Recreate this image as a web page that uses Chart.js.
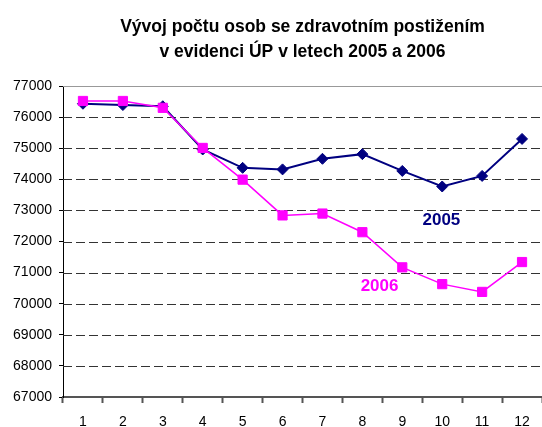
<!DOCTYPE html>
<html>
<head>
<meta charset="utf-8">
<script src="https://cdn.jsdelivr.net/npm/chart.js@4/dist/chart.umd.min.js"></script>
<style>
  html, body { margin: 0; padding: 0; background: #fff; }
  #wrap { width: 542px; height: 427px; position: relative; }
</style>
</head>
<body>
<div id="wrap"><canvas id="c" width="542" height="427"></canvas></div>
<script>
const months = ['1','2','3','4','5','6','7','8','9','10','11','12'];
const values2005 = [76430, 76390, 76350, 74960, 74370, 74320, 74660, 74810, 74270, 73770, 74110, 75300];
const values2006 = [76520, 76520, 76300, 75010, 73990, 72840, 72900, 72300, 71170, 70630, 70380, 71340];
const titleLines = ['Vývoj počtu osob se zdravotním postižením', 'v evidenci ÚP v letech 2005 a 2006'];
const seriesLabels = ['2005', '2006'];
// label anchors in data units: [category index, value]
const labelAnchors = [[8.98, 72680], [7.43, 70550]];
const yMin = 67000, yMax = 77000, yStep = 1000;

const FONT = "'Liberation Sans', Arial, sans-serif";
const colors = ['#000080', '#FF00FF'];

const gridPlugin = {
  id: 'dashedGrid',
  beforeDatasetsDraw(chart) {
    const ctx = chart.ctx;
    const ys = chart.scales.y;
    const area = chart.chartArea;
    ctx.save();
    ctx.lineWidth = 1;
    ys.ticks.forEach((t) => {
      if (t.value === yMin) return;
      const y = Math.round(ys.getPixelForValue(t.value)) + 0.5;
      ctx.beginPath();
      if (t.value === yMax) {
        ctx.setLineDash([]);
        ctx.strokeStyle = '#999';
      } else {
        ctx.setLineDash([9, 4]);
        ctx.strokeStyle = '#333';
      }
      ctx.moveTo(area.left, y);
      ctx.lineTo(area.right, y);
      ctx.stroke();
    });
    ctx.restore();
  }
};

const seriesLabelPlugin = {
  id: 'seriesLabels',
  afterDatasetsDraw(chart) {
    const ctx = chart.ctx;
    const xs = chart.scales.x, ys = chart.scales.y;
    ctx.save();
    ctx.font = 'bold 17px ' + FONT;
    ctx.textAlign = 'center';
    ctx.textBaseline = 'middle';
    seriesLabels.forEach((t, i) => {
      ctx.fillStyle = colors[i];
      ctx.fillText(t, xs.getPixelForValue(labelAnchors[i][0]), ys.getPixelForValue(labelAnchors[i][1]));
    });
    ctx.restore();
  }
};

new Chart(document.getElementById('c'), {
  type: 'line',
  data: {
    labels: months,
    datasets: [
      {
        label: seriesLabels[0],
        data: values2005,
        borderColor: colors[0],
        backgroundColor: colors[0],
        borderWidth: 2,
        pointStyle: 'rectRot',
        pointRadius: 5.5,
        pointBorderWidth: 1,
        tension: 0,
        order: 2
      },
      {
        label: seriesLabels[1],
        data: values2006,
        borderColor: colors[1],
        backgroundColor: colors[1],
        borderWidth: 1.5,
        pointStyle: 'rect',
        pointRadius: 6.5,
        pointBorderWidth: 1,
        tension: 0,
        order: 1
      }
    ]
  },
  options: {
    responsive: false,
    animation: false,
    devicePixelRatio: 1,
    layout: { autoPadding: false, padding: { top: 8, right: 0, left: 0, bottom: 0 } },
    plugins: {
      legend: { display: false },
      tooltip: { enabled: false },
      title: {
        display: true,
        text: titleLines,
        fullSize: false,
        color: '#000',
        font: { family: FONT, size: 17.5, weight: 'bold', lineHeight: 1.43 },
        padding: { top: 7, bottom: 21 }
      }
    },
    scales: {
      x: {
        type: 'category',
        offset: true,
        grid: {
          offset: true,
          drawOnChartArea: false,
          drawTicks: true,
          tickLength: 6,
          tickColor: '#555',
          tickWidth: 2
        },
        border: { display: true, color: '#555', width: 2 },
        ticks: {
          color: '#000',
          font: { family: FONT, size: 14 },
          padding: 11,
          maxRotation: 0,
          autoSkip: false
        },
        afterFit(s) { s.height = 30; s.paddingRight = 0; s.paddingLeft = 0; }
      },
      y: {
        min: yMin,
        max: yMax,
        grid: {
          drawOnChartArea: false,
          drawTicks: true,
          tickLength: 4,
          tickColor: '#000'
        },
        border: { display: true, color: '#000', width: 1 },
        ticks: {
          stepSize: yStep,
          color: '#000',
          font: { family: FONT, size: 14 },
          padding: 7,
          callback: (v) => String(v)
        },
        afterFit(s) { s.width = 63; }
      }
    }
  },
  plugins: [gridPlugin, seriesLabelPlugin]
});
</script>
</body>
</html>
